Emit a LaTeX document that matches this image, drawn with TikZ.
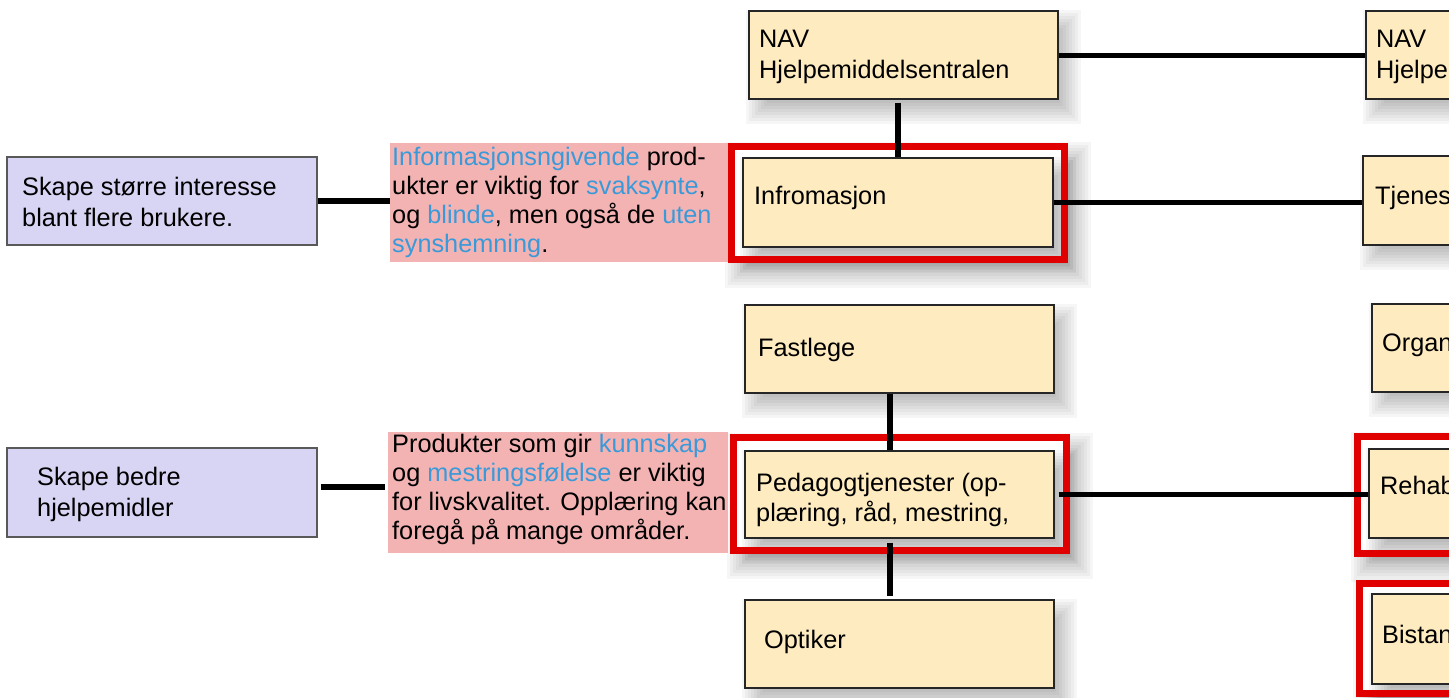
\documentclass[tikz,border=0pt]{standalone}
\usepackage{fontspec}
\setmainfont{Liberation Sans}
\usetikzlibrary{fit,calc}
\definecolor{boxfill}{HTML}{FEEBC0}
\definecolor{lavfill}{HTML}{D8D4F4}
\definecolor{pinkfill}{HTML}{F4B3B3}
\definecolor{tblue}{HTML}{3A9AD9}
\definecolor{frred}{HTML}{E00000}
\newcommand\bl[1]{\textcolor{tblue}{#1}}
\newcommand\ml[1]{\begin{tabular}[t]{@{}l@{}}#1\end{tabular}}
\newcommand\softshadow[4]{\foreach \e in {13,10,...,-11}{\fill[black,opacity=0.034] (#1+10-\e,#2+12-\e) rectangle (#3+10+\e,#4+12+\e);}}
\tikzset{
 ybox/.style={draw=black!85, line width=1.3pt, fill=boxfill, inner sep=0pt},
 lbox/.style={draw=black!65, line width=1.2pt, fill=lavfill, inner sep=0pt},
 pbox/.style={fill=pinkfill, inner sep=0pt},
 wbox/.style={fill=white, inner sep=0pt},
 rframe/.style={draw=frred, line width=7pt},
 txt/.style={inner sep=0pt, anchor=base west, font=\fontsize{25.3}{31}\selectfont},
 ptxt/.style={inner sep=0pt, anchor=base west, font=\fontsize{25.3}{29.2}\selectfont},
 vline/.style={line width=6.5pt, black},
 hline/.style={line width=5pt, black},
 lline/.style={line width=6pt, black},
}
\begin{document}
\begin{tikzpicture}[x=1pt,y=-1pt]
\useasboundingbox (0,0) rectangle (1449,697);
\clip (0,0) rectangle (1449,697);
% frame shadows and white fills
\softshadow{728}{143}{1068}{263}
\softshadow{730}{434}{1070}{554}
\softshadow{1354}{433}{1520}{557}
\softshadow{1356}{580}{1520}{697}
\node[wbox, fit={(731.5,146.5) (1064.5,259.5)}] (frA) {};
\node[wbox, fit={(733.5,437.5) (1066.5,550.5)}] (frB) {};
\node[wbox, fit={(1357.5,436.5) (1520,553.5)}] (frC) {};
\node[wbox, fit={(1359.5,583.5) (1520,693.5)}] (frD) {};
% box shadows
\softshadow{749}{11}{1058}{99}
\softshadow{1366}{11}{1520}{99}
\softshadow{743}{158}{1053}{247}
\softshadow{1363}{156}{1520}{245}
\softshadow{745}{305}{1054}{393}
\softshadow{1372}{304}{1520}{392}
\softshadow{745}{451}{1054}{538}
\softshadow{1369}{449}{1520}{538}
\softshadow{745}{600}{1054}{688}
\softshadow{1372}{594}{1520}{684}
% pink and lavender boxes
\node[pbox, fit={(390,143) (728,262)}] (pink1) {};
\node[pbox, fit={(388,432) (728,553)}] (pink2) {};
\node[lbox, fit={(7,157) (317,245)}] (lav1) {};
\node[lbox, fit={(7,448) (317,537)}] (lav2) {};
% red frame strokes
\draw[rframe] (frA.north west) rectangle (frA.south east);
\draw[rframe] (frB.north west) rectangle (frB.south east);
\draw[rframe] (frC.north west) rectangle (frC.south east);
\draw[rframe] (frD.north west) rectangle (frD.south east);
% yellow boxes
\node[ybox, fit={(749,11) (1058,99)}] (nav) {};
\node[ybox, fit={(1366,11) (1520,99)}] (navR) {};
\node[ybox, fit={(743,158) (1053,247)}] (info) {};
\node[ybox, fit={(1363,156) (1520,245)}] (tjen) {};
\node[ybox, fit={(745,305) (1054,393)}] (fast) {};
\node[ybox, fit={(1372,304) (1520,392)}] (organ) {};
\node[ybox, fit={(745,451) (1054,538)}] (ped) {};
\node[ybox, fit={(1369,449) (1520,538)}] (rehab) {};
\node[ybox, fit={(745,600) (1054,688)}] (opt) {};
\node[ybox, fit={(1372,594) (1520,684)}] (bistan) {};
% connectors
\draw[hline] (nav.east) -- (navR.west);
\draw[vline] ($(nav.south -| info.north)+(0,3)$) -- (info.north);
\draw[hline] (info.east) -- (info.east -| tjen.west);
\draw[vline] ($(fast.south)+(-9.5,0)$) -- ($(ped.north)+(-9.5,0)$);
\draw[vline] ($(ped.south)+(-9.5,4)$) -- ($(opt.north)+(-9.5,-3)$);
\draw[hline] ($(ped.east)+(4,0)$) -- (ped.east -| rehab.west);
\draw[lline] (lav1.east) -- (lav1.east -| pink1.west);
\draw[lline] ($(lav2.east)+(3,-5.5)$) -- ($(lav2.east -| pink2.west)+(-3,-5.5)$);
% texts
\node[txt] (tnav) at (759,47) {\ml{NAV\\Hjelpemiddelsentralen}};
\node[txt] (tnavR) at (1376,47) {\ml{NAV\\Hjelpe}};
\node[txt] (tinfo) at (754,204) {Infromasjon};
\node[txt] (ttjen) at (1375,204) {Tjenes};
\node[txt] (tfast) at (758,356) {Fastlege};
\node[txt] (torgan) at (1382,351) {Organ};
\node[txt, font=\fontsize{25.3}{30}\selectfont] (tped) at (756,491) {\ml{Pedagogtjenester (op-\\plæring, råd, mestring,}};
\node[txt] (trehab) at (1380,494) {Rehab};
\node[txt] (topt) at (764,648) {Optiker};
\node[txt] (tbistan) at (1382,643) {Bistan};
\node[txt, font=\fontsize{25.3}{31.7}\selectfont] (tlav1) at (22,195) {\ml{Skape større interesse\\blant flere brukere.}};
\node[txt, font=\fontsize{25.3}{31.7}\selectfont] (tlav2) at (37,485) {\ml{Skape bedre\\hjelpemidler}};
\node[ptxt] (tpink1) at (392,165) {\ml{\bl{Informasjonsngivende} prod-\\ukter er viktig for \bl{svaksynte},\\og \bl{blinde}, men også de \bl{uten}\\\bl{synshemning}.}};
\node[ptxt] (tpink2) at (392,452) {\ml{Produkter som gir \bl{kunnskap}\\og \bl{mestringsfølelse} er viktig\\for livskvalitet. Opplæring kan\\foregå på mange områder.}};
\end{tikzpicture}
\end{document}
